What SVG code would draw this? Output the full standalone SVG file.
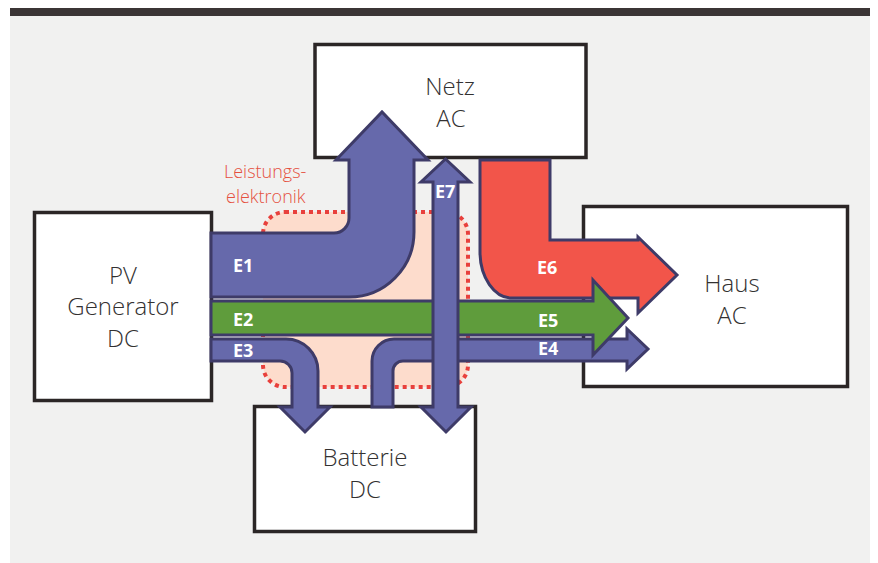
<svg xmlns="http://www.w3.org/2000/svg" width="878" height="563" viewBox="0 0 878 563">
  <style>
    .box { fill: #ffffff; stroke: #2b2626; stroke-width: 3.5; }
    .lbl { font-family: "Open Sans", "Liberation Sans", sans-serif; font-weight: 300; font-size: 24px; fill: #333131; text-anchor: middle; }
    .flow { stroke: #3e3b68; stroke-width: 3; stroke-linejoin: miter; }
    .blue { fill: #6669ab; }
    .green { fill: #5f9c3c; }
    .red { fill: #f2554a; }
    .e { font-family: "Open Sans", "Liberation Sans", sans-serif; font-weight: 700; font-size: 18px; fill: #ffffff; }
    .le { font-family: "Open Sans", "Liberation Sans", sans-serif; font-weight: 300; font-size: 18px; fill: #e5503f; }
  </style>
  <rect x="0" y="0" width="878" height="563" fill="#ffffff"/>
  <rect x="10" y="16" width="860" height="547" fill="#f1f1f0"/>
  <rect x="10" y="8" width="860" height="8" fill="#3b3535"/>

  <g id="leistungselektronik">
    <rect x="263" y="212" width="205" height="175" rx="22" ry="22" fill="#fddccc" stroke="#e8403c" stroke-width="4" stroke-dasharray="4 4"/>
    <text class="le" x="224" y="178">Leistungs-</text>
    <text class="le" x="226" y="203">elektronik</text>
  </g>

  <g id="netz">
    <rect class="box" x="315" y="44.5" width="271" height="113"/>
    <text class="lbl" x="450" y="95">Netz</text>
    <text class="lbl" x="451" y="127">AC</text>
  </g>
  <g id="pv">
    <rect class="box" x="34.5" y="212.5" width="177" height="188"/>
    <text class="lbl" x="123" y="284">PV</text>
    <text class="lbl" x="123" y="315">Generator</text>
    <text class="lbl" x="123" y="347">DC</text>
  </g>
  <g id="haus">
    <rect class="box" x="583.5" y="206.5" width="264" height="180"/>
    <text class="lbl" x="732" y="292">Haus</text>
    <text class="lbl" x="732" y="324">AC</text>
  </g>
  <g id="batterie">
    <rect class="box" x="254.5" y="406.5" width="221" height="125"/>
    <text class="lbl" x="365" y="466">Batterie</text>
    <text class="lbl" x="365" y="498">DC</text>
  </g>

  <g id="connectors">
    <g id="e6">
      <path class="flow red" d="M480 160 L550 160 L550 240 L638 240 L638 237 L677 275 L638 313 L638 298 L512 298 A32 46 0 0 1 480 252 Z"/>
      <text class="e" x="537" y="274">E6</text>
    </g>
    <g id="e1">
      <path class="flow blue" d="M211 233 L334 233 A15 15 0 0 0 349 218 L349 160 L336 160 L382 112 L428 160 L414 160 L414 232 A65 65 0 0 1 349 297 L211 297 Z"/>
      <text class="e" x="233" y="272">E1</text>
    </g>
    <g id="e3">
      <path class="flow blue" d="M211 339 L286 339 A32 32 0 0 1 318 371 L318 407 L330 407 L305 432 L280 407 L292 407 L292 373 A12 12 0 0 0 280 361 L211 361 Z"/>
      <text class="e" x="233" y="357">E3</text>
    </g>
    <g id="e4">
      <path class="flow blue" d="M372 407 L372 361 A22 22 0 0 1 394 339 L627 339 L627 329 L648 349 L627 369 L627 361 L403 361 A10 10 0 0 0 393 371 L393 407 Z"/>
      <text class="e" x="538" y="355">E4</text>
    </g>
    <g id="e2e5">
      <path class="flow green" d="M211 301 L593 301 L593 280 L628 318 L593 355 L593 335 L211 335 Z"/>
      <text class="e" x="233" y="326">E2</text>
      <text class="e" x="538" y="327">E5</text>
    </g>
    <g id="e7">
      <path class="flow blue" d="M433 182 L421 182 L445.5 159 L470 182 L458 182 L458 407 L471 407 L446 432 L421 407 L433 407 Z"/>
      <text class="e" x="435" y="198">E7</text>
    </g>
  </g>
</svg>
